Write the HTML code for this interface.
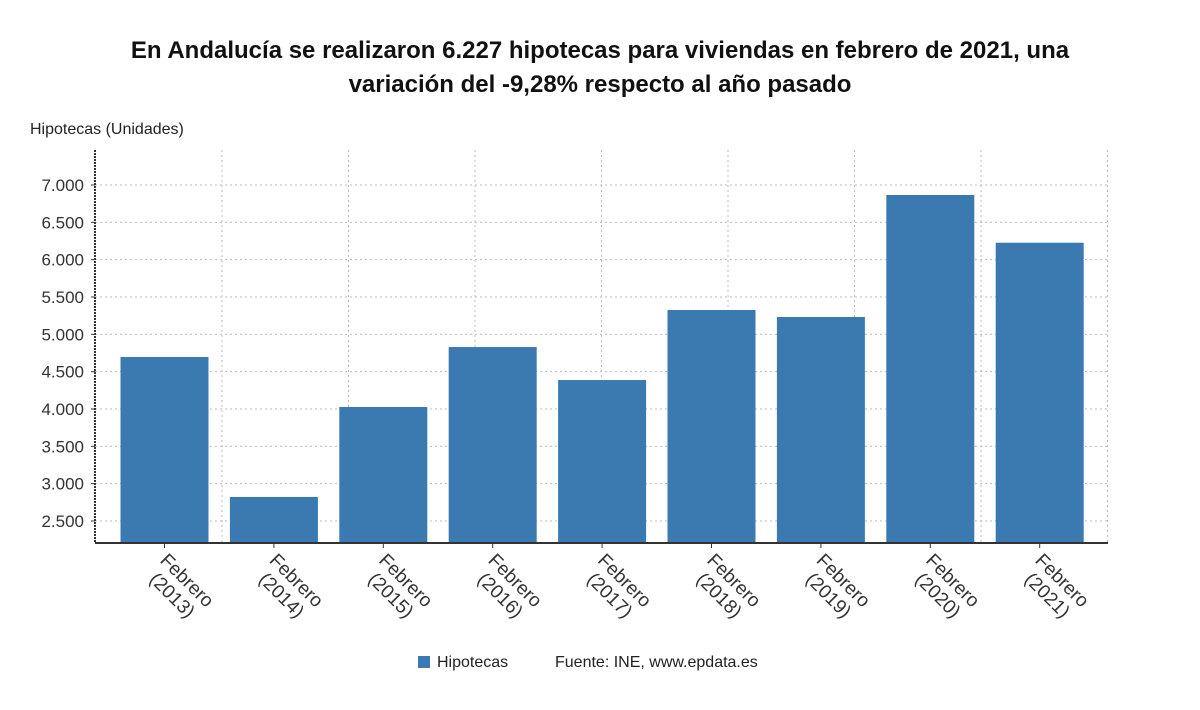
<!DOCTYPE html>
<html><head><meta charset="utf-8"><style>
body{margin:0;background:#fff;font-family:"Liberation Sans",sans-serif;}
</style></head><body>
<svg width="1200" height="705" xmlns="http://www.w3.org/2000/svg" font-family="Liberation Sans, sans-serif">
<text x="600" y="58" text-anchor="middle" font-size="24" font-weight="bold" fill="#111">En Andalucía se realizaron 6.227 hipotecas para viviendas en febrero de 2021, una</text>
<text x="600" y="92" text-anchor="middle" font-size="24" font-weight="bold" fill="#111">variación del -9,28% respecto al año pasado</text>
<text x="30" y="134" font-size="16" fill="#222">Hipotecas (Unidades)</text>
<g id="grid"></g><g id="bars"></g><g id="axes"></g>
<rect x="418" y="656" width="12" height="12" fill="#3a7ab1"/>
<text x="437" y="667" font-size="16" fill="#222">Hipotecas</text>
<text x="555" y="667" font-size="16" fill="#222">Fuente: INE, www.epdata.es</text>
</svg>
<script>
const categories=["2013","2014","2015","2016","2017","2018","2019","2020","2021"];
const values=[4697,2822,4027,4830,4388,5326,5232,6866,6227];
const yTicks=[2500,3000,3500,4000,4500,5000,5500,6000,6500,7000];
const NS="http://www.w3.org/2000/svg";
const L=95,R=1108,T=150,B=543;
const y=v=>521-(v-2500)*(336/4500);
const x=i=>164.5+i*109.4;
function fmt(v){const s=String(v);return s.length>3?s.slice(0,-3)+'.'+s.slice(-3):s;}
function mk(t,a,p){const e=document.createElementNS(NS,t);for(const k in a)e.setAttribute(k,a[k]);p.appendChild(e);return e;}
const grid=document.getElementById('grid'),bars=document.getElementById('bars'),axes=document.getElementById('axes');
for(let gx=222;gx<R;gx+=126.5){const l=mk('line',{x1:gx,x2:gx,y1:T,y2:B,stroke:'#bbb','stroke-dasharray':'2,3'},grid);

}
yTicks.forEach(v=>{const l=mk('line',{x1:L,x2:R,y1:y(v),y2:y(v),stroke:'#bbb','stroke-dasharray':'2,3'},grid);


const t=mk('text',{x:84,y:y(v)+6,'text-anchor':'end','font-size':'17',fill:'#333'},axes);t.textContent=fmt(v);


const tk=mk('line',{x1:L-4,x2:L,y1:y(v),y2:y(v),stroke:'#333'},axes);

});
values.forEach((v,i)=>{const r=mk('rect',{x:x(i)-44,y:y(v),width:88,height:B-y(v),fill:'#3a7ab1'},bars);


const tk=mk('line',{x1:x(i),x2:x(i),y1:B,y2:B+5,stroke:'#333'},axes);


const g=mk('g',{transform:`translate(${x(i)+16},${B+44}) rotate(45)`},axes);


const t1=mk('text',{x:0,y:-3,'text-anchor':'middle','font-size':'19',fill:'#333'},g);t1.textContent='Febrero';
const t2=mk('text',{x:0,y:18,'text-anchor':'middle','font-size':'19',fill:'#333'},g);t2.textContent='('+categories[i]+')';});
const ya=mk('line',{x1:L,x2:L,y1:T,y2:B,stroke:'#333','stroke-width':2,'stroke-dasharray':'2,1'},axes);


const xa=mk('line',{x1:L,x2:R,y1:B,y2:B,stroke:'#333','stroke-width':2},axes);


</script>
</body></html>
